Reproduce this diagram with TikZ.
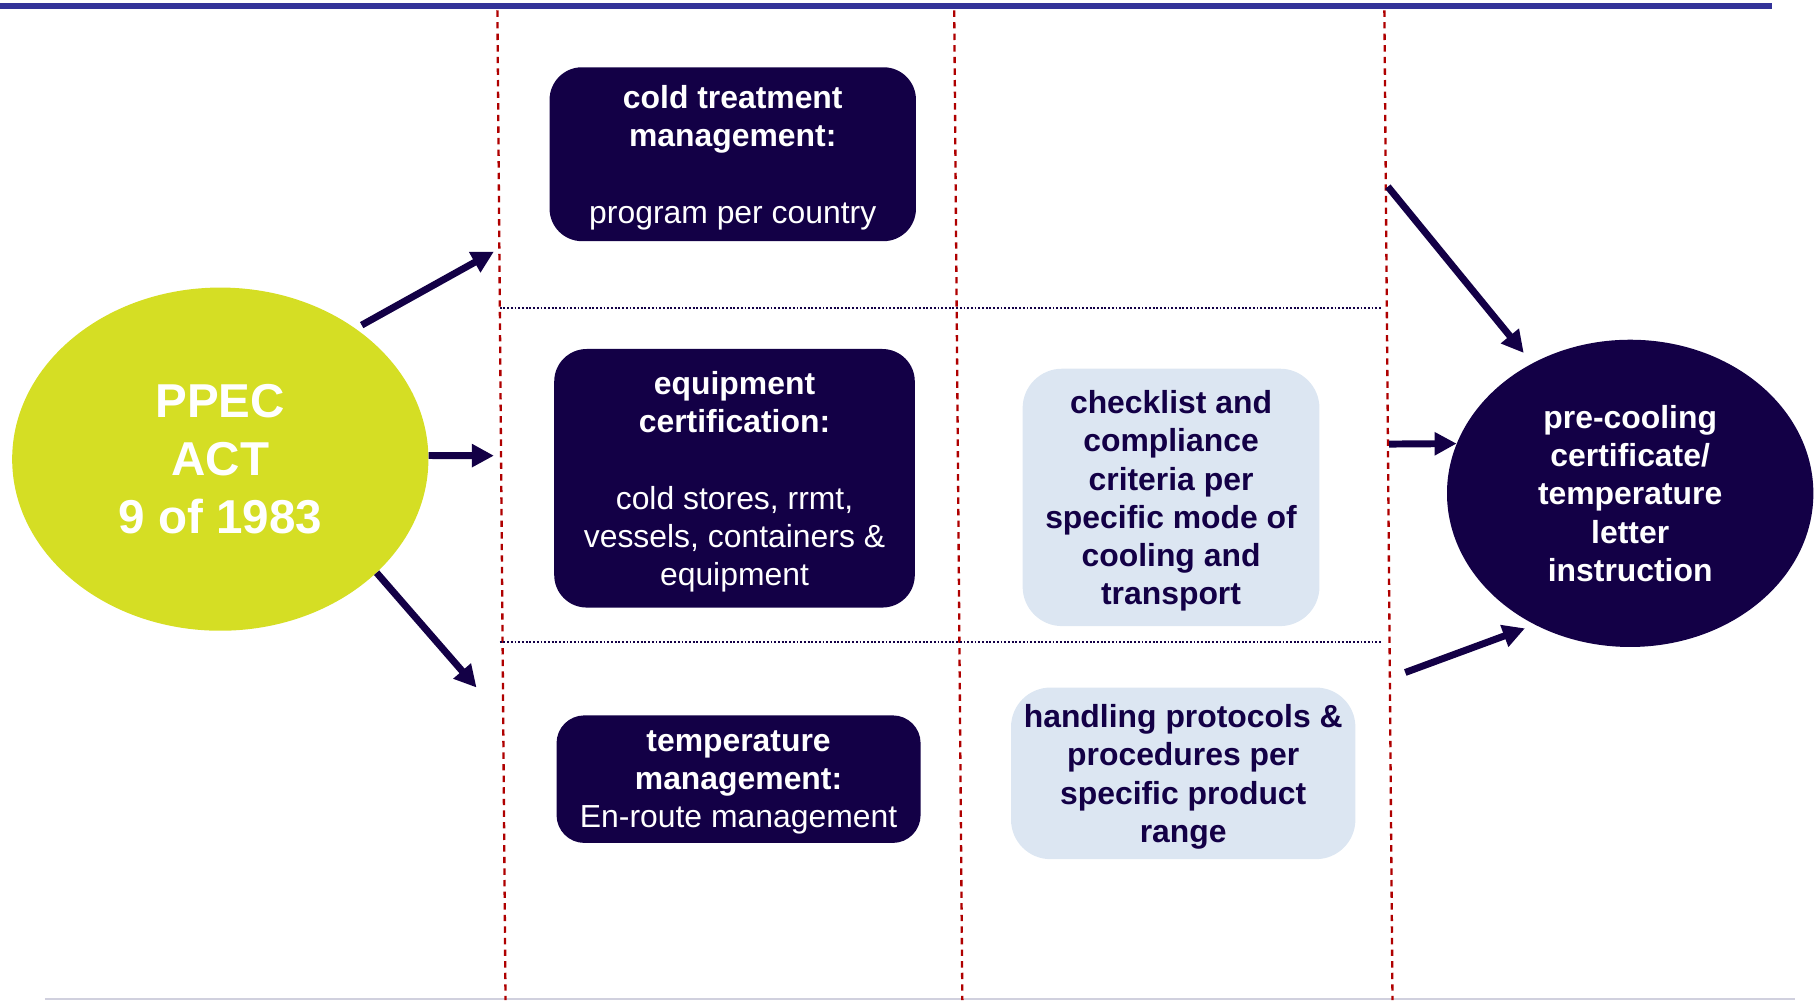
\documentclass[tikz,border=0pt]{standalone}
\usepackage{fontspec}
\setmainfont{Liberation Sans}
\usetikzlibrary{arrows.meta,shapes.geometric}
\definecolor{navy}{RGB}{19,0,70}
\definecolor{lime}{RGB}{213,222,36}
\definecolor{lightbox}{RGB}{220,230,242}
\definecolor{dashred}{RGB}{175,0,0}
\definecolor{topblue}{RGB}{51,51,153}
\definecolor{botgray}{RGB}{208,208,222}
\tikzset{
  txt/.style={font=\bfseries\fontsize{27.5}{33}\selectfont, align=center, inner sep=0pt},
  darkbox/.style={rectangle, rounded corners=28pt, fill=navy, inner sep=0pt},
  lightnode/.style={rectangle, rounded corners=34pt, fill=lightbox, inner sep=0pt},
  darktxt/.style={txt, text=white, yshift=-3pt},
  lighttxt/.style={txt, text=navy, yshift=-3pt},
  ppecnode/.style={ellipse, fill=lime, text=white, inner sep=0pt, align=center,
     font=\bfseries\fontsize{41}{50}\selectfont},
  certnode/.style={txt, ellipse, fill=navy, text=white, inner sep=0pt},
  arr/.style={draw=navy, line width=6pt, -{Triangle[length=19pt,width=19pt]}},
  sepline/.style={draw=dashred, line width=2pt, dash pattern=on 5.5pt off 4.5pt},
  rowline/.style={draw=navy, line width=1.8pt, dash pattern=on 1.6pt off 1.6pt}
}
\begin{document}
\begin{tikzpicture}[x=1pt,y=-1pt]
\useasboundingbox (0,0) rectangle (1568,862.5);
% frame lines
\draw[topblue, line width=5pt] (0,5) -- (1528,5);
\draw[botgray, line width=1.2pt] (38.6,861.5) -- (1548,861.5);
% column separators
\draw[sepline] (429,9) -- (436,862.5);
\draw[sepline] (823,9) -- (830,862.5);
\draw[sepline] (1194,9) -- (1201,862.5);
% row separators
\draw[rowline] (431,266) -- (1192,266);
\draw[rowline] (431,553.5) -- (1192,553.5);
% ellipses
\node[ppecnode, minimum width=359pt, minimum height=296pt] (ppec) at (190,396) {PPEC\\ACT\\9 of 1983};
\node[certnode, minimum width=316pt, minimum height=265pt] (cert) at (1406,425.5)
  {pre-cooling\\certificate/\\temperature\\letter\\instruction};
% boxes
\node[darkbox, minimum width=316pt, minimum height=150pt] (ctm) at (632,133) {};
\node[darktxt] (ctmtxt) at (ctm) {cold treatment\\management:\\[33pt]\mdseries program per country};
\node[darkbox, minimum width=311pt, minimum height=223pt] (eqc) at (633.5,412.5) {};
\node[darktxt] (eqctxt) at (eqc)
  {equipment\\certification:\\[33pt]\mdseries cold stores, rrmt,\\\mdseries vessels, containers \&\\\mdseries equipment};
\node[darkbox, rounded corners=24pt, minimum width=314pt, minimum height=110pt] (tmp) at (637,672) {};
\node[darktxt] (tmptxt) at (tmp) {temperature\\management:\\\mdseries En-route management};
\node[lightnode, minimum width=256pt, minimum height=222pt] (chk) at (1010,429) {};
\node[lighttxt] (chktxt) at (chk)
  {checklist and\\compliance\\criteria per\\specific mode of\\cooling and\\transport};
\node[lightnode, minimum width=297pt, minimum height=148pt] (hnd) at (1020.5,667) {};
\node[lighttxt] (hndtxt) at (hnd) {handling protocols \&\\procedures per\\specific product\\range};
% arrow end points
\coordinate (a1) at (426,217);
\coordinate (a2) at (426,393);
\coordinate (a3) at (411,593);
\coordinate (b1) at (1197,161);
\coordinate (b2) at (1198,383);
\coordinate (b3) at (1212,580);
% arrows
\draw[arr, shorten <=6pt] (ppec.44) -- (a1);
\draw[arr] (ppec.1) -- (a2);
\draw[arr] (ppec.-36) -- (a3);
\draw[arr, shorten >=11.5pt] (b1) -- (cert.127);
\draw[arr] (b2) -- (cert.164);
\draw[arr, shorten >=9pt] (b3) -- (cert.234);
\end{tikzpicture}
\end{document}
